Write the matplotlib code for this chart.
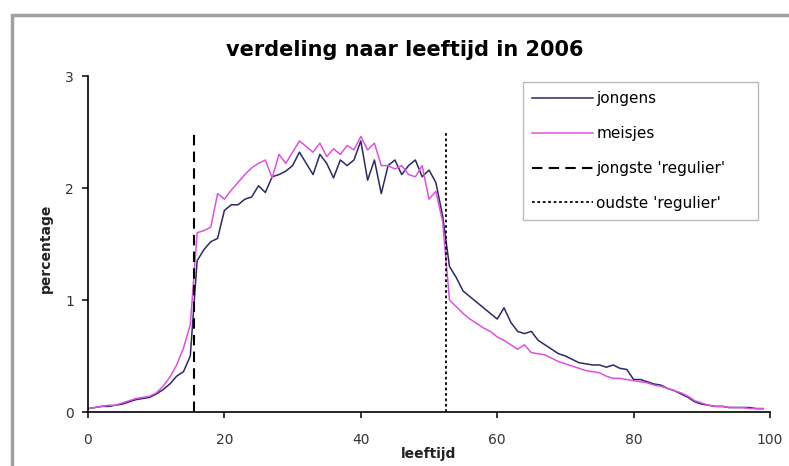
import matplotlib
matplotlib.use("Agg")
import matplotlib.pyplot as plt
from matplotlib.patches import Rectangle
import numpy as np

plt.rcParams['font.family'] = ['DejaVu Sans']

# data: percentage per age (0..99)
ages = np.arange(0, 100)
jongens = [0.03, 0.04, 0.05, 0.05, 0.06, 0.07, 0.09, 0.11, 0.12, 0.13,
           0.16, 0.20, 0.25, 0.32, 0.36, 0.50, 1.35, 1.45, 1.52, 1.55,
           1.80, 1.85, 1.85, 1.90, 1.92, 2.02, 1.96, 2.10, 2.12, 2.15,
           2.20, 2.32, 2.22, 2.12, 2.30, 2.22, 2.09, 2.25, 2.20, 2.25,
           2.42, 2.07, 2.25, 1.95, 2.20, 2.25, 2.12, 2.20, 2.25, 2.10,
           2.16, 2.05, 1.75, 1.30, 1.20, 1.08, 1.03, 0.98, 0.93, 0.88,
           0.83, 0.93, 0.80, 0.72, 0.70, 0.72, 0.64, 0.60, 0.56, 0.52,
           0.50, 0.47, 0.44, 0.43, 0.42, 0.42, 0.40, 0.42, 0.39, 0.38,
           0.29, 0.29, 0.27, 0.25, 0.24, 0.21, 0.19, 0.16, 0.13, 0.09,
           0.07, 0.06, 0.05, 0.05, 0.04, 0.04, 0.04, 0.04, 0.03, 0.03]
meisjes = [0.03, 0.04, 0.05, 0.06, 0.06, 0.08, 0.10, 0.12, 0.13, 0.14,
           0.17, 0.23, 0.31, 0.42, 0.57, 0.78, 1.60, 1.62, 1.65, 1.95,
           1.90, 1.98, 2.05, 2.12, 2.18, 2.22, 2.25, 2.09, 2.30, 2.22,
           2.32, 2.42, 2.37, 2.32, 2.40, 2.28, 2.35, 2.30, 2.38, 2.34,
           2.46, 2.34, 2.40, 2.20, 2.20, 2.17, 2.20, 2.12, 2.10, 2.20,
           1.90, 1.97, 1.70, 1.00, 0.94, 0.88, 0.83, 0.79, 0.75, 0.72,
           0.67, 0.64, 0.60, 0.56, 0.60, 0.53, 0.52, 0.51, 0.48, 0.45,
           0.43, 0.41, 0.39, 0.37, 0.36, 0.35, 0.32, 0.30, 0.30, 0.29,
           0.28, 0.27, 0.26, 0.24, 0.23, 0.21, 0.19, 0.17, 0.14, 0.10,
           0.08, 0.06, 0.05, 0.05, 0.04, 0.04, 0.04, 0.03, 0.03, 0.03]
jongste = 15.5
oudste = 52.5

fig = plt.figure(figsize=(7.89, 4.66), dpi=100)
ax = fig.add_axes([88/789, 1 - 412/466, 682/789, 336/466])

# outer chart frame
fig.patches.append(Rectangle((12/789, -0.2), 1.2, 1 - 15/466 + 0.2,
                             transform=fig.transFigure, fill=False,
                             edgecolor='#a0a0a0', linewidth=2.5))

ax.plot(ages, jongens, color='#2a2a66', lw=1.1, label='jongens')
ax.plot(ages, meisjes, color='#e050e0', lw=1.1, label='meisjes')
ax.plot([jongste, jongste], [0, 2.52], color='black', lw=1.5,
        linestyle=(0, (5, 3)), label="jongste 'regulier'")
ax.plot([oudste, oudste], [0, 2.49], color='black', lw=1.3,
        linestyle=(0, (1.5, 1.5)), label="oudste 'regulier'")

ax.set_xlim(0, 100)
ax.set_ylim(0, 3)
ax.set_xticks([0, 20, 40, 60, 80, 100])
ax.set_yticks([0, 1, 2, 3])
for s in ['top', 'right']:
    ax.spines[s].set_visible(False)
for s in ['left', 'bottom']:
    ax.spines[s].set_linewidth(1.2)
ax.tick_params(direction='out', length=4, width=1.1, labelsize=10,
               labelcolor='#333333')
ax.tick_params(axis='x', pad=11)
ax.tick_params(axis='y', pad=6)

fig.text(405/789, 1 - 50/466, 'verdeling naar leeftijd in 2006',
         ha='center', va='center', fontsize=15, fontweight='bold')
fig.text(46/789, 1 - 248/466, 'percentage', rotation=90,
         ha='center', va='center', fontsize=10, fontweight='bold',
         color='#222222')
fig.text(429/789, 1 - 454/466, 'leeftijd', ha='center', va='center',
         fontsize=10, fontweight='bold', color='#222222')

leg = ax.legend(loc='upper left',
                bbox_to_anchor=(523/789, 1 - 218/466, 235/789, 136/466),
                bbox_transform=fig.transFigure, mode='expand',
                borderaxespad=0, fontsize=11,
                handlelength=4.0, handletextpad=0.2, labelspacing=1.3,
                borderpad=0.6, fancybox=False, framealpha=1,
                edgecolor='#bbbbbb')
leg.get_frame().set_linewidth(1.0)

fig.savefig('out.png', dpi=100)
